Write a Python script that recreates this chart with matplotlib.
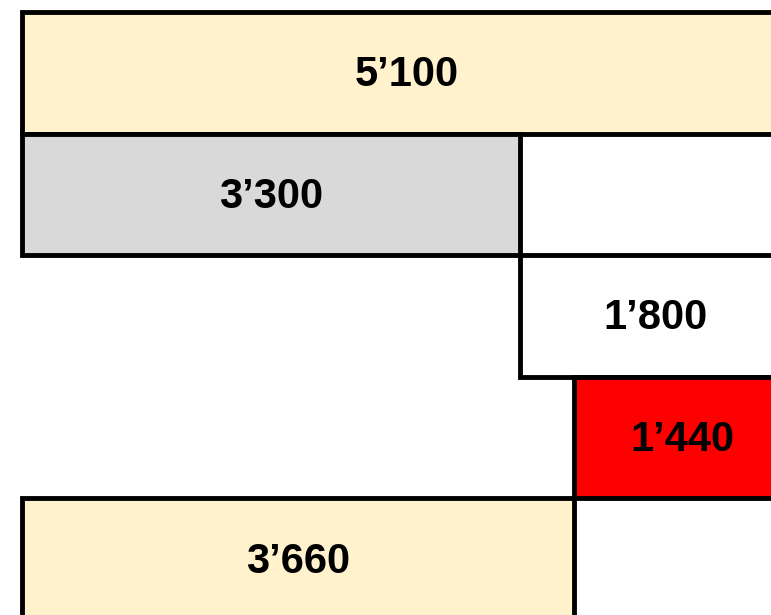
import matplotlib.pyplot as plt

# waterfall rows, top to bottom
labels = ["5'100", "3'300", "1'800", "1'440", "3'660"]
starts = [0, 0, 3300, 3660, 0]
widths = [5100, 3300, 1800, 1440, 3660]
colors = ["#FFF2CC", "#D9D9D9", "#FFFFFF", "#FF0000", "#FFF2CC"]

fig = plt.figure(figsize=(7.71, 6.15), dpi=100)
ax = fig.add_axes([0, 0, 1, 1])

rows = range(len(widths))
ax.barh(rows, widths, left=starts, height=1.0, color=colors,
        edgecolor="black", linewidth=3.5)

for i in rows:
    ax.text(starts[i] + widths[i] / 2, i + 0.02, labels[i].replace("'", "\u2019"),
            ha="center", va="center", fontsize=30, fontweight="bold",
            family=["Liberation Sans", "DejaVu Sans"])

ax.set_xlim(-146, 4964)
ax.set_ylim(4.46, -0.6)
ax.axis("off")

fig.savefig("out.png", dpi=100)
